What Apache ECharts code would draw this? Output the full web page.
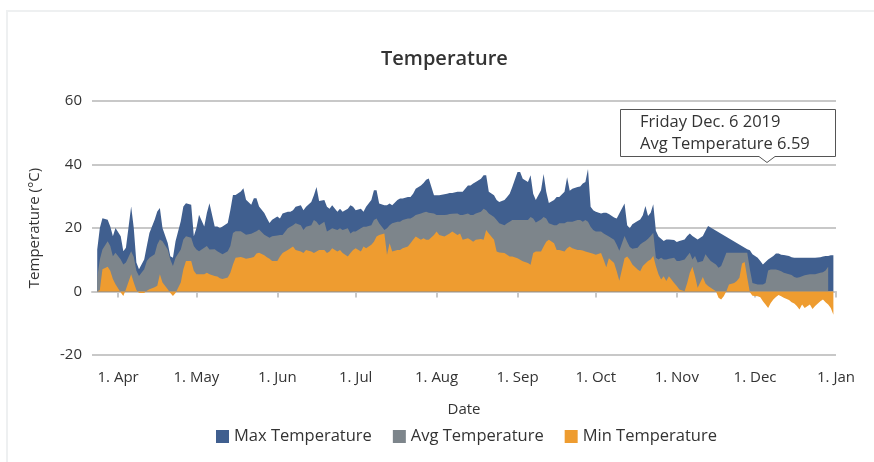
<!DOCTYPE html>
<html>
<head>
<meta charset="utf-8">
<title>Temperature</title>
<script src="https://cdn.jsdelivr.net/npm/echarts@6/dist/echarts.min.js"></script>
<style>
  html, body { margin: 0; padding: 0; background: #fff; overflow: hidden; }
  #frame { position: absolute; left: 6px; top: 10px; width: 1000px; height: 1000px;
           border: 2px solid #eef0f1; box-sizing: border-box; }
  #chart { position: absolute; left: 0; top: 0; width: 874px; height: 462px; }
</style>
</head>
<body>
<div id="frame"></div>
<div id="chart"></div>
<script>
// ── data ────────────────────────────────────────────────────
const YEAR = 2019;
const days = [
  '03-24','03-25','03-26','03-28','03-29','03-30','03-31',
  '04-02','04-03','04-04','04-06','04-07','04-08','04-09','04-11','04-12','04-13','04-15','04-16',
  '04-17','04-18','04-20','04-21','04-22','04-23','04-25','04-26','04-27','04-29','04-30',
  '05-01','05-02','05-04','05-05','05-06','05-08','05-09','05-10','05-11','05-13','05-14','05-15',
  '05-16','05-18','05-19','05-20','05-22','05-23','05-24','05-25','05-27','05-28','05-29','05-30',
  '06-01','06-02','06-03','06-05','06-06','06-07','06-08','06-10','06-11','06-12','06-14','06-15',
  '06-16','06-17','06-19','06-20','06-21','06-22','06-24','06-25','06-26','06-28','06-29','06-30',
  '07-01','07-03','07-04','07-05','07-07','07-08','07-09','07-10','07-12','07-13','07-14','07-15',
  '07-17','07-18','07-19','07-21','07-22','07-23','07-24','07-26','07-27','07-28','07-29','07-31',
  '08-01','08-02','08-04','08-05','08-06','08-07','08-09','08-10','08-11','08-13','08-14','08-15',
  '08-16','08-18','08-19','08-20','08-21','08-23','08-24','08-25','08-27','08-28','08-29','08-30',
  '09-01','09-02','09-03','09-05','09-06','09-07','09-08','09-10','09-11','09-12','09-13','09-15',
  '09-16','09-17','09-19','09-20','09-21','09-22','09-24','09-25','09-26','09-27','09-28','09-29','09-30',
  '10-01','10-03','10-04','10-05','10-06','10-08','10-09','10-10','10-12','10-13','10-14','10-15',
  '10-17','10-18','10-19','10-20','10-21','10-22','10-23','10-24','10-25','10-26','10-27','10-28','10-29','10-31',
  '11-01','11-02','11-04','11-05','11-06','11-07','11-08','11-09','11-11','11-12','11-13','11-14',
  '11-16','11-17','11-18','11-19','11-20','11-21','11-23','11-24','11-25','11-26','11-27','11-28','11-29','11-30',
  '12-02','12-03','12-04','12-05','12-06','12-07','12-08','12-09','12-10','12-11','12-12','12-14',
  '12-15','12-16','12-17','12-18','12-19','12-20','12-22','12-23','12-24','12-26','12-27','12-28','12-29','12-30','12-31'
];
const maxTemp = [
  13.2,20.0,23.1,22.6,20.5,17.4,20.0,
  17.4,12.7,13.8,26.8,20.0,9.1,7.0,10.1,14.3,18.4,22.6,25.2,26.3,20.0,15.3,11.1,10.6,15.8,22.1,26.8,27.8,27.3,17.4,
  20.0,24.2,20.5,24.7,27.8,20.5,20.5,20.0,20.5,21.6,25.7,30.4,30.4,31.5,32.5,28.9,27.3,29.4,29.4,26.8,24.7,23.1,21.6,22.6,
  23.6,23.0,24.6,25.1,25.1,25.6,26.7,27.2,25.6,26.7,28.2,30.3,32.9,28.5,28.8,26.7,26.1,27.2,25.1,26.1,25.1,26.1,27.2,26.7,
  25.6,26.1,25.1,26.7,28.8,31.9,31.9,27.7,27.2,27.2,27.7,27.2,28.8,29.3,29.3,29.8,29.8,30.8,32.4,33.4,34.2,35.2,35.6,30.3,
  30.3,30.3,30.6,30.8,31.0,31.0,31.4,31.4,31.4,33.4,33.4,34.0,34.5,35.5,36.6,36.6,31.4,30.3,28.8,28.2,28.8,29.8,30.8,32.9,
  37.6,37.6,35.5,34.5,36.6,30.8,28.8,31.9,37.0,31.4,27.9,28.8,29.8,29.8,31.4,36.0,31.7,32.4,32.9,33.1,34.0,34.5,38.6,26.7,25.6,
  25.1,24.6,24.8,24.8,24.4,23.3,23.0,24.6,27.7,20.9,19.9,21.2,22.2,22.7,24.0,26.9,23.8,24.8,27.5,19.1,17.3,16.6,15.9,16.4,16.4,16.2,
  15.6,15.9,16.4,17.5,18.3,17.5,16.9,16.4,17.5,19.1,20.6,null,null,null,null,null,null,null,null,null,null,null,null,13.3,13.0,11.7,
  10.6,9.6,8.5,9.3,10.1,10.6,11.2,12.0,12.0,11.6,11.5,11.2,10.8,10.6,10.6,10.6,10.6,10.6,10.6,10.6,10.6,10.8,11.0,11.2,11.2,11.4,11.4
];
const avgTemp = [
  4.4,10.1,13.2,15.8,14.3,11.1,12.2,
  10.1,8.5,9.1,12.7,10.9,6.5,4.9,7.0,9.6,10.6,11.7,14.8,16.4,15.8,13.2,10.1,8.0,10.6,13.2,16.4,17.4,16.9,14.3,
  13.2,12.7,13.8,14.3,13.2,13.3,12.7,12.2,11.7,12.7,14.3,18.4,19.0,19.0,18.4,17.9,18.2,18.6,19.0,19.5,17.9,17.4,16.9,17.4,
  17.6,17.8,17.8,19.9,20.4,20.9,21.5,20.9,19.4,20.4,20.9,22.5,22.0,20.9,22.0,18.9,19.4,19.9,19.4,19.9,19.4,19.9,18.3,18.9,
  18.9,19.9,20.4,20.4,20.9,22.5,23.0,21.5,19.4,19.9,20.9,21.5,22.0,22.0,22.5,23.0,23.0,23.5,24.1,24.6,24.9,25.1,24.8,24.6,
  24.1,24.1,24.1,24.2,24.4,24.5,24.6,24.1,24.1,24.6,24.1,24.1,24.6,25.1,26.1,25.6,24.6,23.5,22.5,21.5,20.9,21.5,22.0,22.5,
  22.5,22.5,22.5,22.5,23.5,23.0,21.7,22.7,23.5,23.0,21.5,20.9,20.9,21.5,21.5,22.0,22.0,22.0,22.5,22.5,22.0,22.5,22.0,20.4,19.4,
  18.9,18.9,18.3,17.8,17.3,16.3,14.7,12.8,17.5,15.7,14.0,13.5,13.8,14.8,15.4,15.9,16.6,17.5,18.5,10.6,10.1,10.6,10.1,10.1,10.3,10.6,
  9.6,9.6,10.1,11.2,12.2,10.1,11.2,9.1,9.6,11.7,10.6,9.6,8.5,7.5,8.0,10.1,12.2,null,null,null,null,null,null,12.2,7.0,2.7,
  2.2,2.2,2.2,2.7,6.59,6.9,6.9,6.9,6.7,6.4,5.9,5.4,5.2,4.6,4.3,4.5,4.8,5.1,5.4,5.4,5.4,5.9,6.1,6.6,7.8,null,null
];
const minTemp = [
  0,0.5,7.0,7.8,6.5,3.9,2.3,
  -0.3,-1.4,0.7,5.4,2.8,0.5,-0.5,-0.5,0.2,0.7,1.3,1.8,5.4,2.8,0.7,-0.5,-1.4,-0.5,2.8,7.0,9.6,9.6,6.5,
  5.4,5.4,5.4,5.9,5.4,4.9,4.7,4.2,3.9,4.4,5.9,8.5,10.6,10.9,10.6,10.3,10.6,10.9,12.0,12.2,11.4,10.8,10.3,9.6,
  9.6,11.0,12.1,13.1,13.6,14.2,13.1,12.6,12.1,13.1,12.6,12.1,12.6,13.1,13.1,12.1,12.6,13.6,12.6,13.1,12.1,11.0,12.1,13.1,
  13.6,12.6,14.2,13.6,14.7,15.7,17.3,17.8,18.3,11.6,15.2,12.6,13.1,13.1,13.6,14.2,15.2,16.3,17.3,16.3,16.8,16.3,16.3,17.8,
  18.9,17.8,17.3,17.8,18.3,18.9,17.8,18.3,16.3,16.8,16.3,15.7,16.3,16.5,16.3,19.4,18.3,16.3,12.6,12.3,12.1,11.6,11.0,11.0,
  10.5,10.0,9.5,9.0,8.4,12.1,12.6,12.6,14.2,15.7,16.3,15.2,13.1,13.1,12.6,13.6,14.2,13.6,13.1,13.1,12.9,12.6,12.4,12.1,11.9,
  11.6,12.1,10.0,7.6,10.5,9.0,6.4,3.4,10.5,11.0,10.0,8.5,6.9,6.4,8.0,8.8,9.6,10.1,11.2,8.0,5.4,3.8,4.8,3.3,4.8,2.7,
  1.7,0.6,0.1,2.7,5.9,7.8,4.8,1.2,4.6,2.5,1.7,1.2,0.1,-2.0,-2.5,-1.5,0.1,2.2,2.7,3.3,4.3,8.8,9.3,4.3,-0.2,-1.3,
  -1.5,-1.8,-3.1,-4.1,-5.2,-3.6,-2.5,-1.7,-1.1,-1.5,-2.0,-2.7,-3.4,-3.8,-4.6,-5.7,-4.1,-5.2,-4.1,-5.5,-4.6,-3.1,-2.5,-3.4,-4.1,-5.2,-7.3
];
const monthTicks = ['2019-04-01','2019-05-01','2019-06-01','2019-07-01','2019-08-01','2019-09-01',
                    '2019-10-01','2019-11-01','2019-12-01','2020-01-01'];
const MONTHS = ['Jan','Feb','Mar','Apr','May','Jun','Jul','Aug','Sep','Oct','Nov','Dec'];
const WEEKDAYS = ['Sunday','Monday','Tuesday','Wednesday','Thursday','Friday','Saturday'];
const TIP_DAY = '12-06';

// ── style ───────────────────────────────────────────────────
const FONT = '"Open Sans", sans-serif';
const TXT = '#333333';
const LINE = '#c8c8c8';
const C_MAX = '#405f8f', C_AVG = '#7d858b', C_MIN = '#ee9c30';

const pd = echarts.number.parseDate;
const ts = s => +pd(s);
const tickVals = monthTicks.map(ts);

const area = (name, vals, color) => ({
  name, type: 'line',
  data: days.map((d, i) => [ts(YEAR + '-' + d), vals[i]]),
  symbol: 'none', showSymbol: false, connectNulls: true,
  lineStyle: { width: 0, color },
  itemStyle: { color },
  areaStyle: { color, opacity: 1 },
  emphasis: { disabled: true },
});

// fixed callout for the hovered day (box drawn as one outline with the pointer)
const tipIdx = days.indexOf(TIP_DAY);
const tipDate = new Date(ts(YEAR + '-' + TIP_DAY));
const tipLines = [
  WEEKDAYS[tipDate.getDay()] + ' ' + MONTHS[tipDate.getMonth()] + '. ' + tipDate.getDate() + ' ' + tipDate.getFullYear(),
  'Avg Temperature ' + avgTemp[tipIdx],
];
const BX = 620.5, BY = 109.5, BW = 215, BH = 47, PX = 767;

const chart = echarts.init(document.getElementById('chart'), null, { renderer: 'canvas' });
chart.setOption({
  animation: false,
  textStyle: { fontFamily: FONT },
  title: {
    text: 'Temperature', left: 381, top: 49, padding: 0,
    textStyle: { fontSize: 20, fontWeight: 600, color: TXT, fontFamily: FONT },
  },
  legend: {
    data: ['Max Temperature', 'Avg Temperature', 'Min Temperature'],
    left: 216, top: 428, padding: 0, icon: 'rect',
    itemWidth: 13, itemHeight: 13, itemGap: 21,
    textStyle: { fontSize: 16.5, color: TXT, fontFamily: FONT },
  },
  grid: { left: 92, right: 38, top: 101, bottom: 107 },
  xAxis: {
    type: 'value', min: ts('2019-03-22'), max: ts('2020-01-01'),
    name: 'Date', nameLocation: 'middle', nameGap: 47,
    nameTextStyle: { fontSize: 15, color: TXT, fontFamily: FONT },
    axisLine: { lineStyle: { color: LINE, width: 2 } },
    axisTick: { show: true, length: 6, lineStyle: { color: LINE, width: 2 }, customValues: tickVals },
    axisLabel: {
      customValues: tickVals, margin: 15, fontSize: 15, color: TXT, fontFamily: FONT,
      formatter: v => { const d = new Date(v); return d.getDate() + '. ' + MONTHS[d.getMonth()]; },
    },
    splitLine: { show: false },
  },
  yAxis: {
    type: 'value', min: -20, max: 60, interval: 20,
    name: 'Temperature (°C)', nameLocation: 'middle', nameGap: 50,
    nameTextStyle: { fontSize: 15, color: TXT, fontFamily: FONT },
    axisLine: { show: false }, axisTick: { show: false },
    axisLabel: { fontSize: 15, color: TXT, margin: 10, fontFamily: FONT },
    splitLine: { lineStyle: { color: LINE, width: 2 } },
  },
  graphic: [{
    type: 'group', z: 100,
    children: [
      {
        type: 'polygon',
        shape: { points: [[BX, BY], [BX + BW, BY], [BX + BW, BY + BH], [PX + 8, BY + BH],
                          [PX, BY + BH + 6], [PX - 8, BY + BH], [BX, BY + BH]] },
        style: { fill: '#fff', stroke: '#555', lineWidth: 1 },
      },
      { type: 'text', x: 640, y: 122, style: { text: tipLines[0], fill: TXT, font: '16.5px ' + FONT, verticalAlign: 'middle' } },
      { type: 'text', x: 640, y: 144, style: { text: tipLines[1], fill: TXT, font: '16.5px ' + FONT, verticalAlign: 'middle' } },
    ],
  }],
  series: [
    area('Max Temperature', maxTemp, C_MAX),
    area('Avg Temperature', avgTemp, C_AVG),
    area('Min Temperature', minTemp, C_MIN),
  ],
});
</script>
</body>
</html>
